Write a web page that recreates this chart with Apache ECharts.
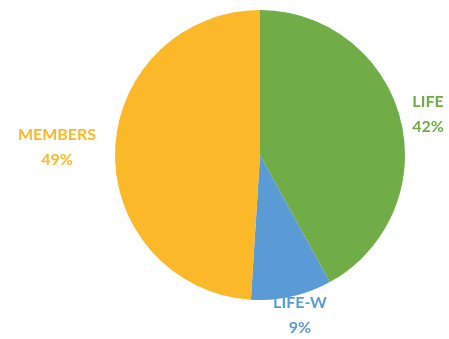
<!DOCTYPE html>
<html>
<head>
<meta charset="utf-8">
<script src="https://cdn.jsdelivr.net/npm/echarts@6/dist/echarts.min.js"></script>
<style>html,body{margin:0;padding:0;background:#fff}#c{width:449px;height:339px}</style>
</head>
<body>
<div id="c"></div>
<script>
const categories = ['LIFE', 'LIFE-W', 'MEMBERS'];
const values = [42, 9, 49];
const colors = ['#70AD47', '#5B9BD5', '#FBB829'];
const labelPos = [[428, 114], [300, 315], [57, 147]];

const chart = echarts.init(document.getElementById('c'), null, {renderer: 'canvas'});
chart.setOption({
  animation: false,
  series: [{
    type: 'pie',
    center: [260, 155],
    radius: 145,
    startAngle: 90,
    clockwise: true,
    avoidLabelOverlap: false,
    data: categories.map((n, i) => ({name: n, value: values[i], itemStyle: {color: colors[i]}, label: {color: colors[i]}})),
    itemStyle: {borderWidth: 0},
    label: {
      show: true,
      position: 'outside',
      alignTo: 'none',
      overflow: 'none',
      width: 120,
      formatter: p => p.name + '\n' + p.value + '%',
      fontFamily: 'Lato',
      fontWeight: 'bold',
      fontSize: 16,
      lineHeight: 25,
      align: 'center'
    },
    labelLine: {show: false},
    labelLayout: function (p) {
      const pos = labelPos[p.dataIndex];
      return {x: pos[0], y: pos[1], align: 'center', verticalAlign: 'middle', hideOverlap: false, moveOverlap: null};
    }
  }]
});
</script>
</body>
</html>
